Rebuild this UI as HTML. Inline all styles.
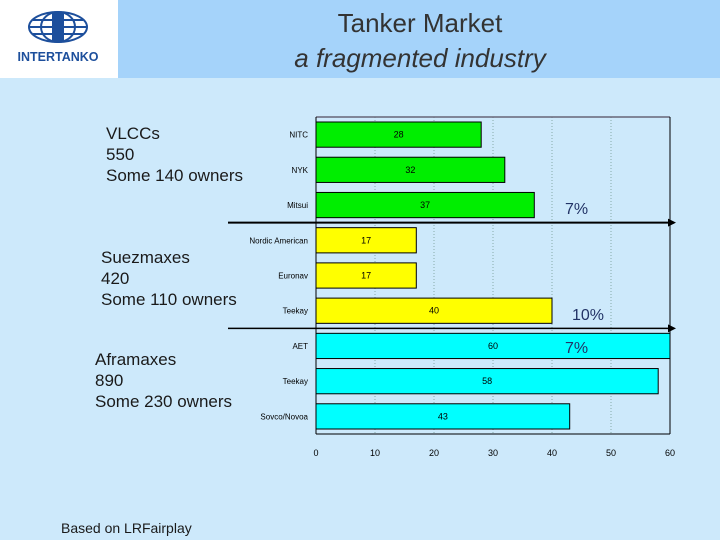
<!DOCTYPE html>
<html><head><meta charset="utf-8">
<style>
body{margin:0;width:720px;height:540px;overflow:hidden;background:#cde9fb;font-family:"Liberation Sans",sans-serif;position:relative}
.t{position:absolute;color:#1a1a1a;font-size:17px;line-height:21px}
</style></head><body>
<div style="position:absolute;left:0;top:0;width:720px;height:78px;background:#a5d3fa"></div>
<div style="position:absolute;left:0;top:0;width:118px;height:78px;background:#fff">
<svg width="118" height="78"><g fill="none" stroke="#1d4f9c" stroke-width="2"><ellipse cx="58" cy="27" rx="29" ry="15"/><ellipse cx="58" cy="27" rx="17" ry="15"/><line x1="29" y1="27" x2="87" y2="27"/><line x1="33" y1="20" x2="83" y2="20"/><line x1="33" y1="34" x2="83" y2="34"/></g><rect x="52" y="12" width="12" height="30" fill="#1d4f9c"/>
<text x="58" y="61" text-anchor="middle" font-family="Liberation Sans" font-weight="bold" font-size="12.5" fill="#1d4f9c">INTERTANKO</text></svg></div>
<div style="position:absolute;left:220px;top:6px;width:400px;text-align:center;font-size:26px;line-height:35px;color:#333">Tanker Market<br><i>a fragmented industry</i></div>
<div class="t" style="left:106px;top:123px">VLCCs<br>550<br>Some 140 owners</div>
<div class="t" style="left:101px;top:247px">Suezmaxes<br>420<br>Some 110 owners</div>
<div class="t" style="left:95px;top:349px">Aframaxes<br>890<br>Some 230 owners</div>
<div class="t" style="left:61px;top:518px;font-size:14px">Based on LRFairplay</div>
<svg id="c" width="720" height="540" style="position:absolute;left:0;top:0"></svg>
<script>
const owners=["NITC","NYK","Mitsui","Nordic American","Euronav","Teekay","AET","Teekay","Sovco/Novoa"];
const values=[28,32,37,17,17,40,60,58,43];
const labels=["28","32","37","17","17","40","60","58","43"];
const colors=["#00ee00","#00ee00","#00ee00","#ffff00","#ffff00","#ffff00","#00ffff","#00ffff","#00ffff"];
const ticks=[0,10,20,30,40,50,60];
const shares=["7%","10%","7%"];
const NS="http://www.w3.org/2000/svg",svg=document.getElementById('c');
const x0=316,x1=670,yTop=117,yBot=434,xs=v=>x0+(x1-x0)*v/60,step=(yBot-yTop)/owners.length;
function el(t,a,p){const e=document.createElementNS(NS,t);for(const k in a)e.setAttribute(k,a[k]);(p||svg).appendChild(e);return e;}
ticks.forEach(t=>{const x=xs(t);
 if(t>0&&t<60){const g=el('line',{x1:x,y1:yTop,x2:x,y2:yBot,stroke:'#8aa',"stroke-dasharray":'1,2'});}
 const l=el('text',{x:x,y:yBot+22,"text-anchor":'middle',"font-size":9,"font-family":'Liberation Sans',fill:'#000'});l.textContent=t;
 
 });
el('line',{x1:x0,y1:yTop,x2:x1,y2:yTop,stroke:'#667',"stroke-width":1.5});
el('line',{x1:x1,y1:yTop,x2:x1,y2:yBot,stroke:'#000'});
el('line',{x1:x0,y1:yTop,x2:x0,y2:yBot,stroke:'#000'});
el('line',{x1:x0,y1:yBot,x2:x1,y2:yBot,stroke:'#000'});
owners.forEach((o,i)=>{const y=yTop+i*step+5,h=step-10;
 const r=el('rect',{x:x0,y:y,width:xs(values[i])-x0,height:h,fill:colors[i],stroke:'#000'});
 
 
 const v=el('text',{x:(x0+xs(values[i]))/2,y:y+h/2+3,"text-anchor":'middle',"font-size":9,"font-family":'Liberation Sans'});v.textContent=labels[i];
 
 
 const t=el('text',{x:x0-8,y:y+h/2+3,"text-anchor":'end',"font-size":8,"font-family":'Liberation Sans'});t.textContent=o;
 
 });
[3,6].forEach((k,j)=>{const y=yTop+k*step;
 const l=el('line',{x1:228,y1:y,x2:x1+4,y2:y,stroke:'#000',"stroke-width":j==0?2:1.5});
 
 
 el('polygon',{points:`${x1+6},${y} ${x1-2},${y-4} ${x1-2},${y+4}`,fill:'#000'});});
[[565,214],[572,320],[565,353]].forEach((p,i)=>{const t=el('text',{x:p[0],y:p[1],"font-size":16,"font-family":'Liberation Sans',fill:'#223366'});t.textContent=shares[i];
 
 });
</script>
</body></html>
